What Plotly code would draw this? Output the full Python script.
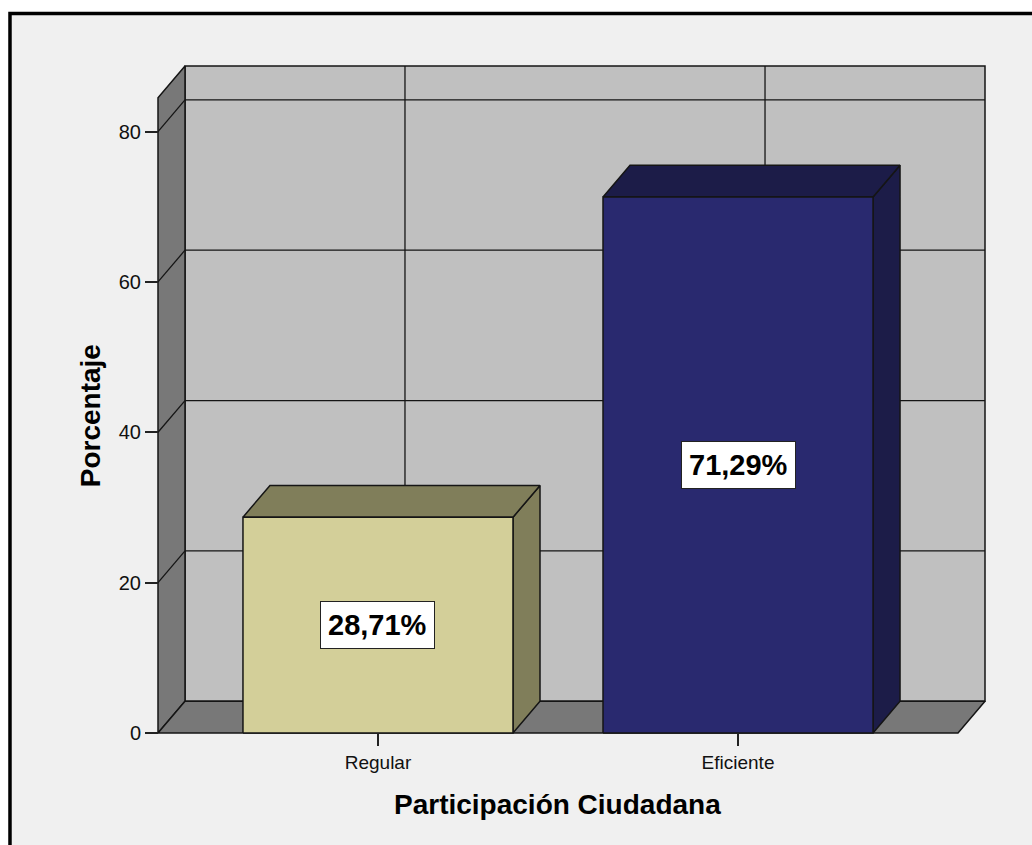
import plotly.graph_objects as go

# ---- data ----
categories = ["Regular", "Eficiente"]
percentages = [28.71, 71.29]
value_labels = ["28,71%", "71,29%"]
y_ticks = [0, 20, 40, 60, 80]

# ---- styling ----
front_colors = ["#d3cf99", "#29296f"]
shade_colors = ["#807e5a", "#1c1c48"]
WALL_BACK = "#c0c0c0"
WALL_SIDE = "#787878"
EDGE = "#151515"
FONT = "Liberation Sans, Arial, sans-serif"

# geometry of the pseudo-3D box (data units)
BAR_HALF = 0.375      # half of bar width
PLANE_HALF = 0.611    # front plane reaches this far beyond the outer categories
DEPTH_X = 0.075       # depth offset along x
DEPTH_Y = 4.22        # depth offset along y
Y_TOP = 84.5          # top of the front plane

# pixel scale used to lay out the plot area
W, H = 1032, 845
PX_X = 360.0
PX_Y = 7.5125
PAD = 4

x_lo = -PLANE_HALF
x_hi = (len(categories) - 1) + PLANE_HALF
left = 158 - PAD
plot_w = (x_hi + DEPTH_X - x_lo) * PX_X + 2 * PAD
top = 66 - PAD
plot_h = (Y_TOP + DEPTH_Y) * PX_Y + 2 * PAD
margin_r = W - left - plot_w
margin_b = H - top - plot_h


def px_to_paper_x(px):
    return (px - left) / plot_w


def px_to_paper_y(py):
    return (top + plot_h - py) / plot_h


fig = go.Figure()


def poly(xs, ys, fill, width=1.5):
    fig.add_trace(go.Scatter(
        x=list(xs) + [xs[0]], y=list(ys) + [ys[0]],
        mode="lines", fill="toself", fillcolor=fill,
        line=dict(color=EDGE, width=width),
        hoverinfo="skip", showlegend=False,
    ))


def lines(segs, width=1.3):
    xs, ys = [], []
    for (xa, ya), (xb, yb) in segs:
        xs += [xa, xb, None]
        ys += [ya, yb, None]
    fig.add_trace(go.Scatter(
        x=xs, y=ys, mode="lines",
        line=dict(color=EDGE, width=width),
        hoverinfo="skip", showlegend=False,
    ))


# back wall
poly([x_lo + DEPTH_X, x_hi + DEPTH_X, x_hi + DEPTH_X, x_lo + DEPTH_X],
     [DEPTH_Y, DEPTH_Y, Y_TOP + DEPTH_Y, Y_TOP + DEPTH_Y], WALL_BACK)

# grid on the back wall
grid = []
for v in y_ticks[1:]:
    grid.append(((x_lo + DEPTH_X, v + DEPTH_Y), (x_hi + DEPTH_X, v + DEPTH_Y)))
for i in range(len(categories)):
    grid.append(((i + DEPTH_X, DEPTH_Y), (i + DEPTH_X, Y_TOP + DEPTH_Y)))
lines(grid)

# left wall
poly([x_lo, x_lo + DEPTH_X, x_lo + DEPTH_X, x_lo],
     [0, DEPTH_Y, Y_TOP + DEPTH_Y, Y_TOP], WALL_SIDE)
lines([((x_lo, v), (x_lo + DEPTH_X, v + DEPTH_Y)) for v in y_ticks[1:]])

# floor
poly([x_lo, x_hi, x_hi + DEPTH_X, x_lo + DEPTH_X],
     [0, 0, DEPTH_Y, DEPTH_Y], WALL_SIDE)

# bars: side, top, front
for i, v in enumerate(percentages):
    xl, xr = i - BAR_HALF, i + BAR_HALF
    poly([xr, xr + DEPTH_X, xr + DEPTH_X, xr],
         [0, DEPTH_Y, v + DEPTH_Y, v], shade_colors[i])
    poly([xl, xr, xr + DEPTH_X, xl + DEPTH_X],
         [v, v, v + DEPTH_Y, v + DEPTH_Y], shade_colors[i])
    poly([xl, xr, xr, xl], [0, 0, v, v], front_colors[i])

# value labels in the middle of each bar
annotations = []
for i, v in enumerate(percentages):
    annotations.append(dict(
        x=i, y=v / 2, xref="x", yref="y", text="<b>" + value_labels[i] + "</b>",
        showarrow=False, font=dict(family=FONT, size=29, color="#000"),
        bgcolor="white", bordercolor="#222", borderwidth=1, borderpad=7,
    ))

# axis titles
annotations.append(dict(
    x=px_to_paper_x(557.5), y=px_to_paper_y(804), xref="paper", yref="paper",
    text="<b>Participación Ciudadana</b>", showarrow=False,
    font=dict(family=FONT, size=28, color="#000"),
    xanchor="center", yanchor="middle",
))
annotations.append(dict(
    x=px_to_paper_x(90), y=px_to_paper_y(415), xref="paper", yref="paper",
    text="<b>Porcentaje</b>", showarrow=False, textangle=-90,
    font=dict(family=FONT, size=28, color="#000"),
    xanchor="center", yanchor="middle",
))

# chart frame
shapes = [dict(
    type="rect", xref="paper", yref="paper", layer="below",
    x0=px_to_paper_x(10), x1=px_to_paper_x(W + 20),
    y0=px_to_paper_y(H + 20), y1=px_to_paper_y(13.5),
    fillcolor="#f0f0f0", line=dict(color="#000", width=3.5),
)]

fig.update_layout(
    width=W, height=H,
    margin=dict(l=left, r=margin_r, t=top, b=margin_b, pad=0),
    paper_bgcolor="white", plot_bgcolor="rgba(0,0,0,0)",
    showlegend=False,
    annotations=annotations, shapes=shapes,
    xaxis=dict(
        range=[x_lo - PAD / PX_X, x_hi + DEPTH_X + PAD / PX_X],
        tickvals=list(range(len(categories))), ticktext=categories,
        ticks="outside", ticklen=12, tickwidth=1.5, tickcolor="#222",
        showgrid=False, zeroline=False, showline=False,
        tickfont=dict(family=FONT, size=19, color="#111"),
        anchor="free", position=PAD / plot_h,
        fixedrange=True,
    ),
    yaxis=dict(
        range=[-PAD / PX_Y, Y_TOP + DEPTH_Y + PAD / PX_Y],
        tickvals=y_ticks, ticktext=[str(t) for t in y_ticks],
        ticks="outside", ticklen=13, tickwidth=1.5, tickcolor="#222",
        showgrid=False, zeroline=False, showline=False,
        tickfont=dict(family=FONT, size=20, color="#111"),
        anchor="free", position=PAD / plot_w,
        fixedrange=True,
    ),
)

fig.write_html("out.html")
